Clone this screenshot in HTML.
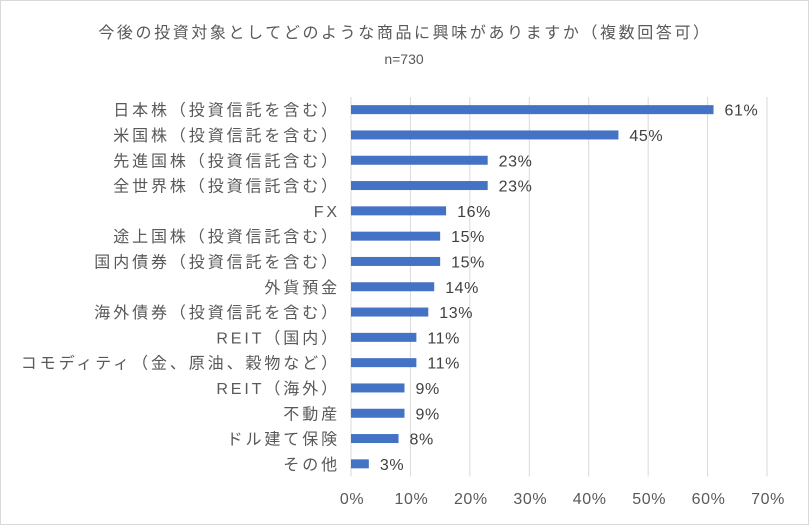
<!DOCTYPE html>
<html><head><meta charset="utf-8"><style>
body{margin:0;background:#fff}
svg text{font-family:"Liberation Sans","Noto Sans CJK JP",sans-serif}
</style></head><body>
<svg id="c" width="809" height="525" xmlns="http://www.w3.org/2000/svg">
<rect x="0.5" y="0.5" width="808" height="524" fill="#fff" stroke="#d9d9d9"/>
<text x="405" y="38" text-anchor="middle" font-size="16" letter-spacing="2.6" fill="#595959">今後の投資対象としてどのような商品に興味がありますか（複数回答可）</text>
<text x="404" y="64" text-anchor="middle" font-size="14" fill="#595959">n=730</text>
<g id="grid"></g><g id="bars"></g><g id="labels"></g>
</svg>
<script>
const categories=["日本株（投資信託を含む）","米国株（投資信託を含む）","先進国株（投資信託含む）","全世界株（投資信託含む）","FX","途上国株（投資信託含む）","国内債券（投資信託を含む）","外貨預金","海外債券（投資信託を含む）","REIT（国内）","コモディティ（金、原油、穀物など）","REIT（海外）","不動産","ドル建て保険","その他"];
const values=[61,45,23,23,16,15,15,14,13,11,11,9,9,8,3];
const ticks=[0,10,20,30,40,50,60,70];
const NS="http://www.w3.org/2000/svg";
const x0=351,x1=767,xmax=70,yTop=97,step=25.3;
const xs=v=>x0+(x1-x0)*v/xmax;
const yc=i=>yTop+step*(i+0.5);
function el(t,a,p){const e=document.createElementNS(NS,t);for(const k in a)e.setAttribute(k,a[k]);p.appendChild(e);return e;}
const g=document.getElementById('grid'),b=document.getElementById('bars'),l=document.getElementById('labels');
ticks.forEach(t=>{
 const ln=el('line',{x1:xs(t),x2:xs(t),y1:yTop,y2:yTop+step*categories.length,stroke:'#d9d9d9','stroke-width':1},g);
 
 
 const tx=el('text',{x:xs(t)+1,y:504,'text-anchor':'middle','font-size':16,'letter-spacing':0.6,fill:'#595959'},l);
 tx.textContent=t+'%';
 
 
});
categories.forEach((c,i)=>{
 const r=el('rect',{x:x0,y:yc(i)-4.5,width:xs(values[i])-x0,height:9,fill:'#4472c4'},b);
 
 
 const ct=el('text',{x:340,y:yc(i)+6,'text-anchor':'end','font-size':16,'letter-spacing':2.9,fill:'#595959'},l);
 ct.textContent=c;
 
 
 const vt=el('text',{x:xs(values[i])+11,y:yc(i)+6,'font-size':16,'letter-spacing':0.6,fill:'#404040'},l);
 vt.textContent=values[i]+'%';
 
 
});
</script>
</body></html>
